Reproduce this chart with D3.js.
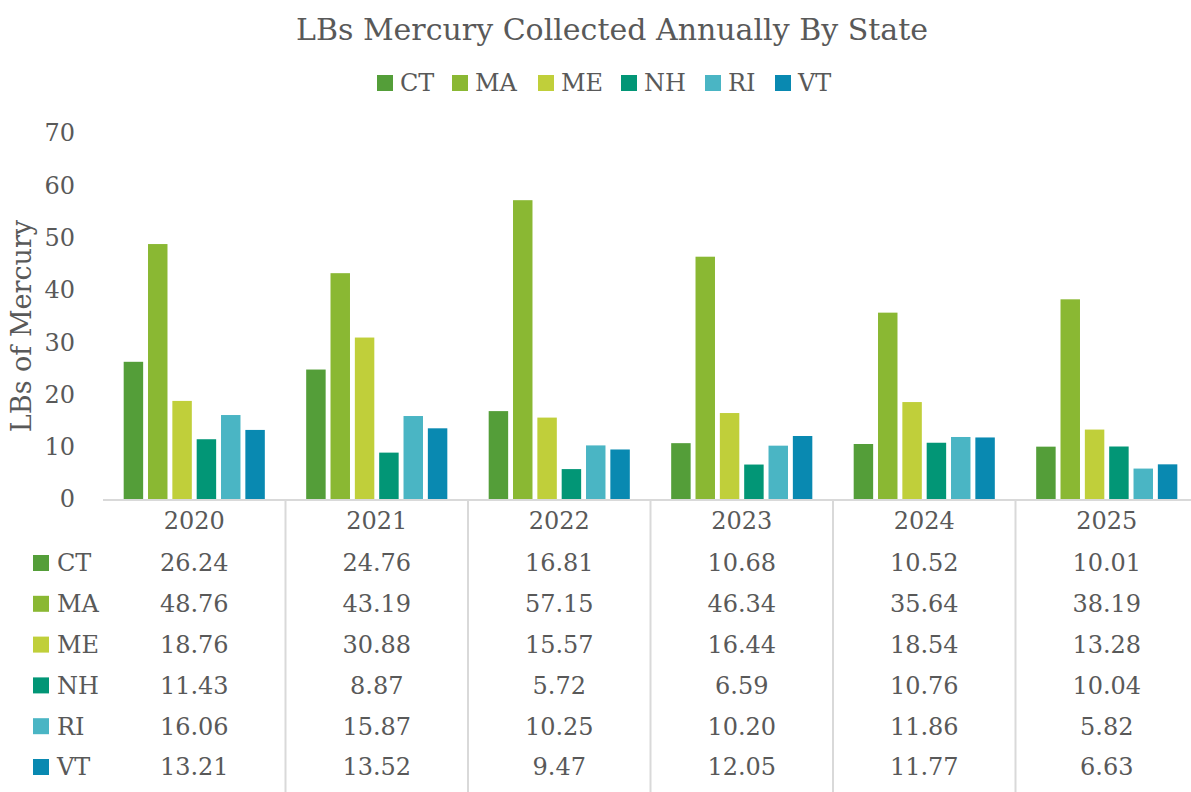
<!DOCTYPE html>
<html>
<head>
<meta charset="utf-8">
<script src="https://cdn.jsdelivr.net/npm/d3@7"></script>
<style>
  body { margin: 0; background: #fff; }
  svg text { font-family: "DejaVu Serif", serif; fill: #595959; }
</style>
</head>
<body>
<svg id="chart"></svg>
<script>
// data
var years = ['2020', '2021', '2022', '2023', '2024', '2025'];
var states = ['CT', 'MA', 'ME', 'NH', 'RI', 'VT'];
var ct = [26.24, 24.76, 16.81, 10.68, 10.52, 10.01];
var ma = [48.76, 43.19, 57.15, 46.34, 35.64, 38.19];
var me = [18.76, 30.88, 15.57, 16.44, 18.54, 13.28];
var nh = [11.43, 8.87, 5.72, 6.59, 10.76, 10.04];
var ri = [16.06, 15.87, 10.25, 10.20, 11.86, 5.82];
var vt = [13.21, 13.52, 9.47, 12.05, 11.77, 6.63];
var yTicks = [0, 10, 20, 30, 40, 50, 60, 70];

var seriesValues = [ct, ma, me, nh, ri, vt];

var svgWidth = 1191, svgHeight = 792;
var plotLeft = 103, plotRight = 1198, plotTop = 133, plotBottom = 499;
var rowStart = 563, rowStep = 40.8;

var svg = d3.select('#chart')
  .attr('width', svgWidth)
  .attr('height', svgHeight);

var color = d3.scaleOrdinal()
  .domain(states)
  .range(['#549E39', '#8AB833', '#C0CF3A', '#029676', '#4AB5C4', '#0989B1']);

var x0 = d3.scaleBand()
  .domain(years)
  .range([plotLeft, plotRight])
  .padding(0);

var x1 = d3.scaleBand()
  .domain(states)
  .range([0, x0.bandwidth()])
  .paddingInner(0.2)
  .paddingOuter(0.85);

var y = d3.scaleLinear()
  .domain([0, 70])
  .range([plotBottom, plotTop]);

// title
svg.append('text')
  .attr('x', 612)
  .attr('y', 40)
  .attr('text-anchor', 'middle')
  .style('font-size', '30px')
  .text('LBs Mercury Collected Annually By State');

// top legend
var legendX = [377, 452, 538, 621, 705, 775];
var legend = svg.selectAll('.legend')
  .data(states)
  .enter()
  .append('g')
  .attr('class', 'legend')
  .attr('transform', function(d, i) { return 'translate(' + legendX[i] + ',75)'; });

legend.append('rect')
  .attr('width', 16)
  .attr('height', 16)
  .attr('fill', function(d) { return color(d); });

legend.append('text')
  .attr('x', 23)
  .attr('y', 16)
  .style('font-size', '24px')
  .text(function(d) { return d; });

// y axis ticks
svg.selectAll('.ytick')
  .data(yTicks)
  .enter()
  .append('text')
  .attr('class', 'ytick')
  .attr('x', 75)
  .attr('y', function(d) { return y(d); })
  .attr('dy', '0.35em')
  .attr('text-anchor', 'end')
  .style('font-size', '24px')
  .text(function(d) { return d; });

// y axis title
svg.append('text')
  .attr('transform', 'translate(31,326) rotate(-90)')
  .attr('text-anchor', 'middle')
  .style('font-size', '27px')
  .text('LBs of Mercury');

// bars
var groups = svg.selectAll('.year')
  .data(years)
  .enter()
  .append('g')
  .attr('class', 'year')
  .attr('transform', function(d) { return 'translate(' + x0(d) + ',0)'; });

groups.selectAll('rect')
  .data(function(d, i) {
    return states.map(function(s, j) { return { state: s, value: seriesValues[j][i] }; });
  })
  .enter()
  .append('rect')
  .attr('x', function(d) { return x1(d.state); })
  .attr('y', function(d) { return y(d.value); })
  .attr('width', x1.bandwidth())
  .attr('height', function(d) { return y(0) - y(d.value); })
  .attr('fill', function(d) { return color(d.state); });

// baseline
svg.append('line')
  .attr('x1', plotLeft)
  .attr('x2', plotRight)
  .attr('y1', y(0) + 1)
  .attr('y2', y(0) + 1)
  .attr('stroke', '#D9D9D9')
  .attr('stroke-width', 2);

// table dividers
svg.selectAll('.divider')
  .data(years.slice(1))
  .enter()
  .append('line')
  .attr('class', 'divider')
  .attr('x1', function(d) { return x0(d); })
  .attr('x2', function(d) { return x0(d); })
  .attr('y1', y(0) + 1)
  .attr('y2', svgHeight)
  .attr('stroke', '#D9D9D9')
  .attr('stroke-width', 2);

// table year labels
svg.selectAll('.yearlabel')
  .data(years)
  .enter()
  .append('text')
  .attr('class', 'yearlabel')
  .attr('x', function(d) { return x0(d) + x0.bandwidth() / 2; })
  .attr('y', 521)
  .attr('dy', '0.35em')
  .attr('text-anchor', 'middle')
  .style('font-size', '24px')
  .text(function(d) { return d; });

// table rows
var rows = svg.selectAll('.row')
  .data(states)
  .enter()
  .append('g')
  .attr('class', 'row')
  .attr('transform', function(d, i) { return 'translate(0,' + (rowStart + i * rowStep) + ')'; });

rows.append('rect')
  .attr('x', 33)
  .attr('y', -8)
  .attr('width', 16)
  .attr('height', 16)
  .attr('fill', function(d) { return color(d); });

rows.append('text')
  .attr('x', 57)
  .attr('dy', '0.35em')
  .style('font-size', '24px')
  .text(function(d) { return d; });

rows.each(function(s, j) {
  d3.select(this).selectAll('.cell')
    .data(seriesValues[j])
    .enter()
    .append('text')
    .attr('class', 'cell')
    .attr('x', function(d, i) { return x0(years[i]) + x0.bandwidth() / 2; })
    .attr('dy', '0.35em')
    .attr('text-anchor', 'middle')
    .style('font-size', '24px')
    .text(function(d) { return d.toFixed(2); });
});
</script>
</body>
</html>
